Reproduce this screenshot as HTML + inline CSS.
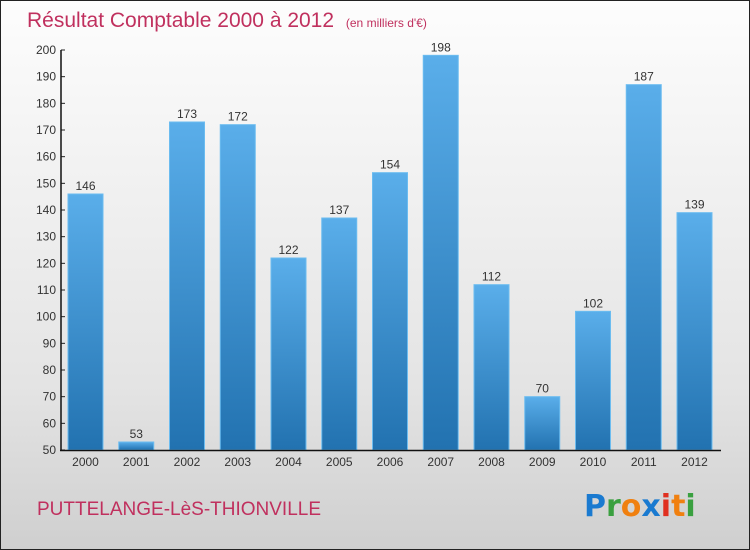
<!DOCTYPE html>
<html><head><meta charset="utf-8"><style>
body{margin:0;width:750px;height:550px;overflow:hidden;font-family:"Liberation Sans",sans-serif}
#wrap{position:absolute;left:0;top:0;width:748px;height:548px;border:1px solid #222;background:linear-gradient(#fdfdfd,#f2f2f2 30%,#e4e4e4 70%,#cfcfcf)}
</style></head><body>
<div id="wrap">
<svg width="750" height="550" style="position:absolute;left:-1px;top:-1px">
<defs>
<linearGradient id="bg" x1="0" y1="0" x2="0" y2="1"><stop offset="0" stop-color="#5aaeea"/><stop offset="1" stop-color="#2272b0"/></linearGradient>
</defs>
<text x="27" y="27" font-size="21" fill="#c0305e">Résultat Comptable 2000 à 2012 <tspan font-size="12" dx="6">(en milliers d'€)</tspan></text>
<g id="plot"></g>
<text x="37" y="515" font-size="19" fill="#c0305e">PUTTELANGE-LèS-THIONVILLE</text>
<g font-size="30" font-weight="bold" font-family="'DejaVu Sans',sans-serif">
<text x="584" y="516"><tspan fill="#1a7ad0">P</tspan><tspan fill="#3aa040">r</tspan><tspan fill="#f08010">o</tspan><tspan fill="#1a7ad0">x</tspan><tspan fill="#e03020">i</tspan><tspan fill="#f08010">t</tspan><tspan fill="#3aa040">i</tspan></text>
</g>
</svg>
</div>
<script>
const categories=["2000","2001","2002","2003","2004","2005","2006","2007","2008","2009","2010","2011","2012"];
const values=[146,53,173,172,122,137,154,198,112,70,102,187,139];
const yTicks=[50,60,70,80,90,100,110,120,130,140,150,160,170,180,190,200];
const NS="http://www.w3.org/2000/svg";
const g=document.getElementById('plot');
const y=v=>450-(v-50)*400/150;
const x=i=>85.5+i*50.75;
function mk(t,a){const e=document.createElementNS(NS,t);for(const k in a)e.setAttribute(k,a[k]);g.appendChild(e);return e;}
yTicks.forEach(t=>{
 const l=mk('line',{x1:61,x2:65,y1:y(t),y2:y(t),stroke:'#222'});
 
 
 const tx=mk('text',{x:56,y:y(t)+4,'text-anchor':'end','font-size':12,fill:'#333'});
 tx.textContent=t;
 
 
});
categories.forEach((c,i)=>{
 const v=values[i];
 const r=mk('rect',{x:x(i)-17.5,y:y(v),width:35,height:450-y(v),fill:'url(#bg)',stroke:'#6bbcf0','stroke-width':1});
 
 
 const vl=mk('text',{x:x(i),y:y(v)-4,'text-anchor':'middle','font-size':12,fill:'#333'});
 vl.textContent=v;
 
 
 const cl=mk('text',{x:x(i),y:466,'text-anchor':'middle','font-size':12,fill:'#333'});
 cl.textContent=c;
 
 
});
const ya=mk('line',{x1:61,x2:61,y1:50,y2:451,stroke:'#111','stroke-width':1.5});


const xa=mk('line',{x1:60,x2:721,y1:450.5,y2:450.5,stroke:'#111','stroke-width':1.5});


</script>
</body></html>
